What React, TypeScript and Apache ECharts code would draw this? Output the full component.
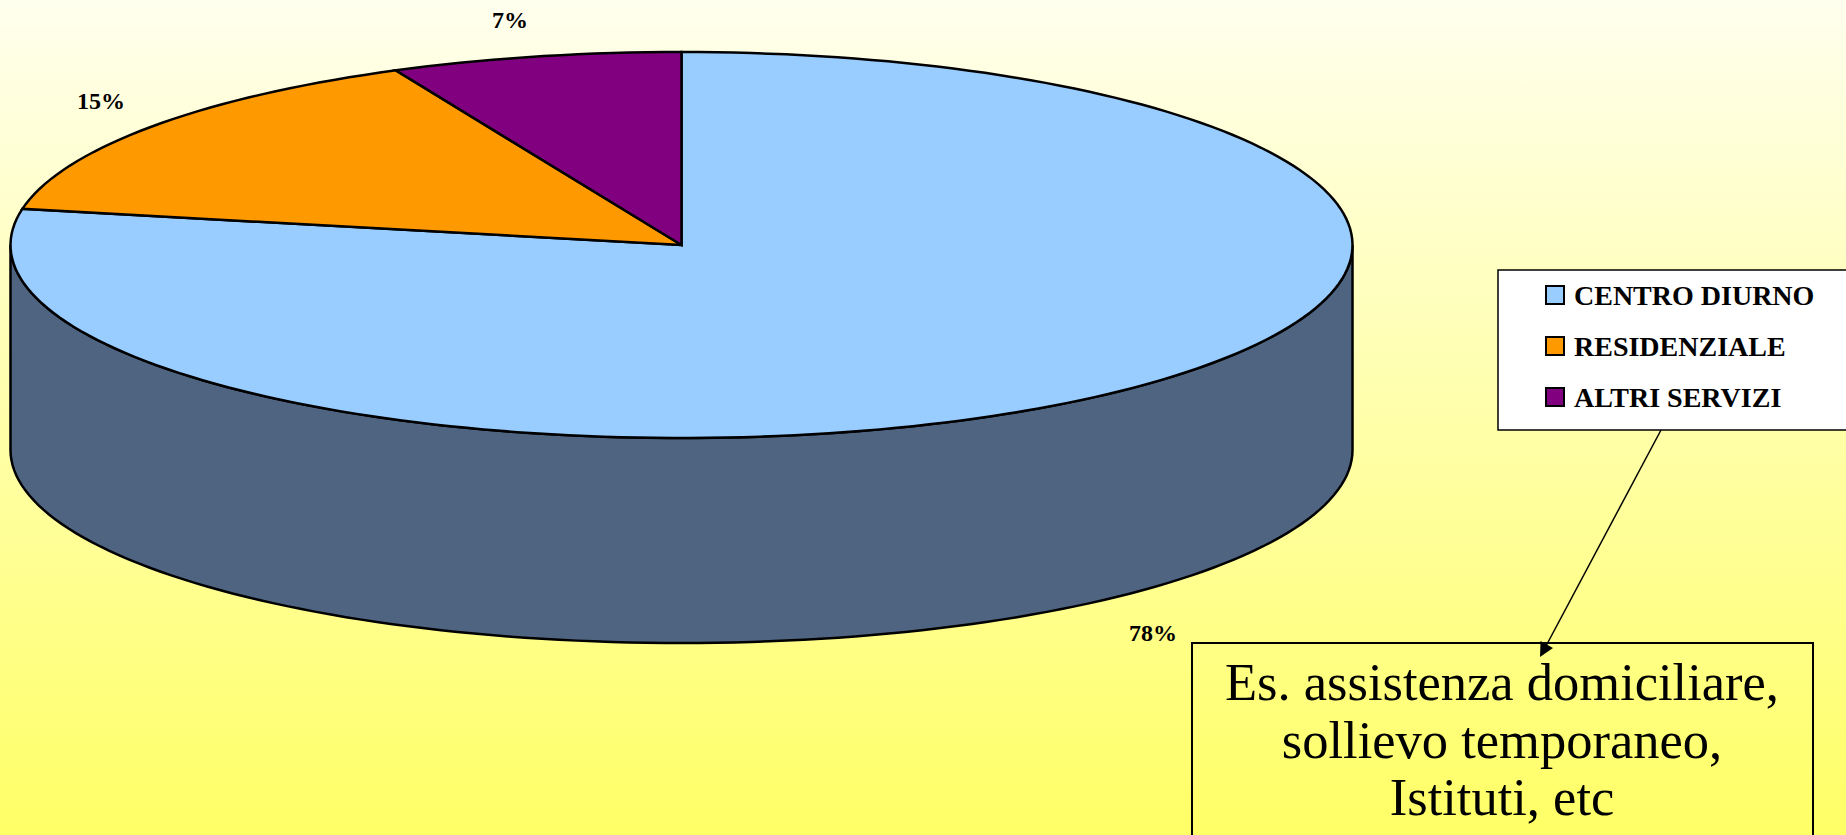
import React, { useEffect, useRef } from "react";
import * as echarts from "echarts";

const categories = ["CENTRO DIURNO", "RESIDENZIALE", "ALTRI SERVIZI"];
const values = [78, 15, 7];
const colors = ["#99CCFF", "#FF9900", "#800080"];
const wallColor = "#4F6480";
const noteLines = ["Es. assistenza domiciliare,", "sollievo temporaneo,", "Istituti, etc"];

const SERIF = "'Liberation Serif', serif";
const W = 1846, H = 835;
const cx = 681.5, cy = 245, rx = 671, ry = 193, depth = 205;
const pt = (deg: number, dy = 0) => {
  const t = (deg * Math.PI) / 180;
  return [cx + rx * Math.sin(t), cy - ry * Math.cos(t) + dy];
};
const arc = (a: number, b: number, dy = 0) => {
  const n = Math.max(2, Math.ceil(Math.abs(b - a) / 1.5));
  const out: number[][] = [];
  for (let i = 0; i <= n; i++) out.push(pt(a + ((b - a) * i) / n, dy));
  return out;
};

const total = values.reduce((s, v) => s + v, 0);
const labelPos = [[1153, 633], [101, 101], [510, 20]];

export default function App() {
  const ref = useRef<HTMLDivElement>(null);
  useEffect(() => {
    document.body.style.margin = "0";
    document.body.style.overflow = "hidden";
    const chart = echarts.init(ref.current!, undefined, { renderer: "svg" });
    let acc = 0;
    const series = categories.map((name, i) => {
      const start = acc;
      acc += values[i];
      return {
        type: "custom",
        name,
        coordinateSystem: "none",
        itemStyle: { color: colors[i] },
        data: [[start, values[i]]],
        silent: true,
        renderItem: (_p: any, api: any) => {
          const a = (api.value(0) / total) * 360;
          const b = a + (api.value(1) / total) * 360;
          const children: any[] = [];
          const wa = Math.max(a, 90), wb = Math.min(b, 270);
          if (wb > wa) {
            children.push({
              type: "polygon",
              shape: { points: [...arc(wa, wb), ...arc(wb, wa, depth)] },
              style: { fill: wallColor, stroke: "#000", lineWidth: 2.5 },
            });
          }
          children.push({
            type: "polygon",
            shape: { points: [[cx, cy], ...arc(a, b)] },
            style: { fill: colors[i], stroke: "#000", lineWidth: 2.5 },
          });
          return { type: "group", children };
        },
      };
    });
    const tip = [1540, 657];
    chart.setOption({
      animation: false,
      backgroundColor: new echarts.graphic.LinearGradient(0, 0, 0, 1, [
        { offset: 0, color: "#FFFFEE" },
        { offset: 1, color: "#FFFF66" },
      ]),
      legend: {
        show: true,
        orient: "vertical",
        left: 1540,
        top: 276,
        data: categories,
        icon: "rect",
        itemWidth: 18,
        itemHeight: 18,
        itemGap: 23,
        itemStyle: { borderColor: "#000", borderWidth: 2 },
        textStyle: { fontFamily: SERIF, fontWeight: "bold", fontSize: 28, color: "#000", padding: [0, 0, 0, 5] },
        selectedMode: false,
        z: 5,
      },
      series,
      graphic: [
        { type: "rect", z: 1, shape: { x: 1498, y: 270, width: 360, height: 160 }, style: { fill: "#fff", stroke: "#000", lineWidth: 1.5 } },
        { type: "rect", z: 3, shape: { x: 1192, y: 643, width: 621, height: 260 }, style: { fill: "transparent", stroke: "#000", lineWidth: 2 } },
        { type: "line", z: 4, shape: { x1: 1661, y1: 430, x2: 1546, y2: 646 }, style: { stroke: "#000", lineWidth: 1.5 } },
        { type: "polygon", z: 4, shape: { points: [tip, [1553, 648], [1540.5, 641]] }, style: { fill: "#000" } },
        ...values.map((v, i) => ({
          type: "text", z: 4, x: labelPos[i][0], y: labelPos[i][1],
          style: { text: `${v}%`, fontFamily: SERIF, fontWeight: "bold", fontSize: 24, fill: "#000", textAlign: "center", textVerticalAlign: "middle" },
        })),
        ...noteLines.map((t, i) => ({
          type: "text", z: 4, x: 1502, y: 682 + i * 57.6,
          style: { text: t, fontFamily: SERIF, fontSize: 52.5, fill: "#000", textAlign: "center", textVerticalAlign: "middle" },
        })),
      ],
    });
    return () => chart.dispose();
  }, []);
  return <div ref={ref} style={{ width: W, height: H }} />;
}
